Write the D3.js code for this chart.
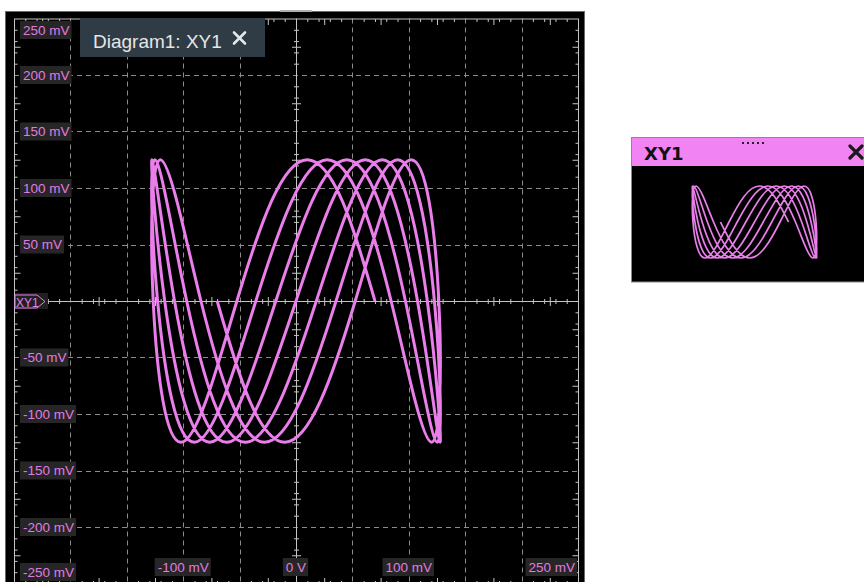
<!DOCTYPE html>
<html><head><meta charset="utf-8">
<script src="https://cdn.jsdelivr.net/npm/d3@7"></script>
<style>html,body{margin:0;padding:0;background:#fff;} svg{display:block;}</style>
</head><body>
<svg id="chart" width="864" height="582"></svg>
<script>
// ---- data (mV): one continuous record ----
const traceX = [-69.9,-41.2,-9.9,21.9,52.5,79.7,102.1,118.0,126.6,127.3,
  120.2,105.5,84.3,57.8,27.7,-4.0,-35.6,-64.9,-90.2,-109.9,
  -122.7,-127.9,-125.1,-114.6,-96.9,-73.3,-45.0,-13.9,18.0,48.8,
  76.5,99.5,116.4,125.9,127.7,121.5,107.7,87.2,61.4,31.7,
  0.0,-31.7,-61.4,-87.3,-107.7,-121.5,-127.7,-125.9,-116.4,-99.5,
  -76.5,-48.7,-17.9,14.0,45.0,73.3,97.0,114.7,125.2,127.9,
  122.7,109.8,90.1,64.9,35.5,4.0,-27.8,-57.8,-84.3,-105.5,
  -120.2,-127.3,-126.6,-118.0,-102.0,-79.7,-52.4,-21.9,10.0,41.3,70.0];
const traceY = [0,-88,-125,-88,0,88,125,88,0,-88,
  -125,-88,0,88,125,88,0,-88,-125,-88,
  0,88,125,88,0,-88,-125,-88,0,88,
  125,88,0,-88,-125,-88,0,88,125,88,
  0,-88,-125,-88,0,88,125,88,0,-88,
  -125,-88,0,88,125,88,0,-88,-125,-88,
  0,88,125,88,0,-88,-125,-88,0,88,
  125,88,0,-88,-125,-88,0,88,125,88,0];
const gridValues = [-200,-150,-100,-50,50,100,150,200];
const yTickValues = [250,200,150,100,50,-50,-100,-150,-200,-250];
const yTickLabels = ["250 mV","200 mV","150 mV","100 mV","50 mV","-50 mV","-100 mV","-150 mV","-200 mV","-250 mV"];
const xTickValues = [-100,0,100,250];
const xTickLabels = ["-100 mV","0 V","100 mV","250 mV"];
const legendText = "Diagram1: XY1";
const thumbTitle = "XY1";
const markerText = "XY1";

// ---- styles ----
const pink = "#ea7eea", labelPink = "#e27ae2", axisCol = "#c4c4c4", gridCol = "#8c8c8c";
const svg = d3.select("#chart");
const x = d3.scaleLinear().domain([-250,250]).range([14,578]);
const y = d3.scaleLinear().domain([-250,250]).range([583.5,18.5]);

// window frame
svg.append("rect").attr("x",5.5).attr("y",11.5).attr("width",579).attr("height",580)
  .attr("fill","#000").attr("stroke","#6a6a6a");
svg.append("rect").attr("x",280).attr("y",10).attr("width",32).attr("height",2).attr("fill","#b0b0b0");

// grid
const g = svg.append("g");
g.selectAll(".vg").data(gridValues).join("line")
  .attr("x1",d=>Math.round(x(d))+0.5).attr("x2",d=>Math.round(x(d))+0.5)
  .attr("y1",y(250)).attr("y2",y(-250))
  .attr("stroke",gridCol).attr("stroke-dasharray","5,4");
g.selectAll(".hg").data(gridValues).join("line")
  .attr("y1",d=>Math.round(y(d))+0.5).attr("y2",d=>Math.round(y(d))+0.5)
  .attr("x1",x(-250)).attr("x2",x(250))
  .attr("stroke",gridCol).attr("stroke-dasharray","5,4");

// border
svg.append("rect").attr("x",x(-250)+0.5).attr("y",y(250)+0.5)
  .attr("width",x(250)-x(-250)).attr("height",y(-250)-y(250))
  .attr("fill","none").attr("stroke",axisCol);

const minor = d3.range(-240,250,10).filter(v=>v%50!==0 && Math.abs(v%50)!==25);
const half = [-225,-175,-125,-75,-25,25,75,125,175,225];
function styleAxis(sel){ sel.select(".domain").remove(); sel.selectAll("line").attr("stroke",axisCol); }
function addAxis(gen, tx, ty, vals, size){
  svg.append("g").attr("transform",`translate(${tx},${ty})`)
    .call(gen.tickValues(vals).tickSize(size).tickFormat("")).call(styleAxis);
}
// border ticks
addAxis(d3.axisRight(y), x(-250)+0.5, 0, minor, 3);
addAxis(d3.axisRight(y), x(-250)+0.5, 0, half, 6);
addAxis(d3.axisLeft(y), x(250)+0.5, 0, minor, 3);
addAxis(d3.axisLeft(y), x(250)+0.5, 0, half, 6);
addAxis(d3.axisBottom(x), 0, y(250)+0.5, minor, 3);
addAxis(d3.axisBottom(x), 0, y(250)+0.5, half, 6);
addAxis(d3.axisTop(x), 0, y(-250)+0.5, minor, 3);
addAxis(d3.axisTop(x), 0, y(-250)+0.5, half, 6);

// center cross axes
const cx = Math.round(x(0))+0.5, cy = Math.round(y(0))+0.5;
svg.append("line").attr("x1",x(-250)).attr("x2",x(250)).attr("y1",cy).attr("y2",cy).attr("stroke",axisCol);
svg.append("line").attr("y1",y(250)).attr("y2",y(-250)).attr("x1",cx).attr("x2",cx).attr("stroke",axisCol);
addAxis(d3.axisBottom(x), 0, cy, minor, 2.5);
addAxis(d3.axisTop(x), 0, cy, minor, 2.5);
addAxis(d3.axisBottom(x), 0, cy, half, 4.5);
addAxis(d3.axisTop(x), 0, cy, half, 4.5);
addAxis(d3.axisRight(y), cx, 0, minor, 2.5);
addAxis(d3.axisLeft(y), cx, 0, minor, 2.5);
addAxis(d3.axisRight(y), cx, 0, half, 4.5);
addAxis(d3.axisLeft(y), cx, 0, half, 4.5);

// trace
const pts = traceX.map((v,i)=>[v,traceY[i]]);
const line = d3.line().x(d=>x(d[0])).y(d=>y(d[1])).curve(d3.curveNatural);
svg.append("path").attr("d",line(pts)).attr("fill","none")
  .attr("stroke",pink).attr("stroke-width",3).attr("stroke-linejoin","round");

// axis labels with dark boxes
const font = "'Liberation Sans', Arial, sans-serif";
function boxLabel(txt, xLeft, yc){
  const grp = svg.append("g");
  const t = grp.append("text").text(txt).attr("font-family",font).attr("font-size",13.5)
    .attr("fill",labelPink).attr("y",yc+4.8);
  const w = t.node().getComputedTextLength();
  const tx = xLeft + 3;
  t.attr("x",tx);
  grp.insert("rect","text").attr("x",tx-3).attr("y",yc-9).attr("width",w+5).attr("height",18).attr("fill","#262626");
}
yTickValues.forEach((v,i)=>{
  const yc = Math.max(30, Math.min(572, y(v)));
  boxLabel(yTickLabels[i], 20, yc);
});
xTickValues.forEach((v,i)=>{
  const grp = svg.append("g");
  const t = grp.append("text").text(xTickLabels[i]).attr("font-family",font).attr("font-size",13.5)
    .attr("fill",labelPink).attr("y",567+4.8);
  const w = t.node().getComputedTextLength();
  const tx = Math.min(x(v) - w/2, 575 - w);
  t.attr("x",tx);
  grp.insert("rect","text").attr("x",tx-3).attr("y",558).attr("width",w+5).attr("height",18).attr("fill","#262626");
});

// XY1 marker on the left of the zero line
svg.append("rect").attr("x",15).attr("y",293).attr("width",33).attr("height",16).attr("fill","#202020");
svg.append("path").attr("d",`M15,${cy-6.5}H37L45,${cy}L37,${cy+6.5}H15Z`).attr("fill","none").attr("stroke",pink).attr("stroke-width",1);
svg.append("text").text(markerText).attr("x",16).attr("y",cy+5).attr("font-family",font)
  .attr("font-size",12).attr("fill",pink);

// legend box
svg.append("rect").attr("x",80).attr("y",18).attr("width",185).attr("height",39).attr("fill","#2f3b45");
svg.append("text").text(legendText).attr("x",93).attr("y",48).attr("font-family",font)
  .attr("font-size",19).attr("fill","#e6e6e6");
svg.append("path").attr("d","M234,32.5L245,43.5M245,32.5L234,43.5").attr("stroke","#e6e6e6")
  .attr("stroke-width",2.6).attr("stroke-linecap","round");

// ---- thumbnail panel ----
svg.append("rect").attr("x",631.5).attr("y",137.5).attr("width",240).attr("height",144.5)
  .attr("fill","#000").attr("stroke","#8a8a8a");
svg.append("rect").attr("x",632).attr("y",138).attr("width",240).attr("height",28).attr("fill","#f283f2");
svg.append("text").text(thumbTitle).attr("x",644).attr("y",160).attr("font-family","'DejaVu Sans', sans-serif")
  .attr("font-weight","bold").attr("font-size",18).attr("fill","#111");
svg.selectAll(".dot").data(d3.range(5)).join("rect")
  .attr("x",d=>742+d*5).attr("y",142).attr("width",2).attr("height",2).attr("fill","#222");
svg.append("path").attr("d","M850,146L862,158M862,146L850,158").attr("stroke","#1a1a1a")
  .attr("stroke-width",3.2).attr("stroke-linecap","round");
const tx = d3.scaleLinear().domain([-250,250]).range([633,876]);
const ty = d3.scaleLinear().domain([-125,125]).range([258,186]);
const tline = d3.line().x(d=>tx(d[0])).y(d=>ty(d[1])).curve(d3.curveNatural);
svg.append("path").attr("d",tline(pts)).attr("fill","none").attr("stroke",pink).attr("stroke-width",1.7);
</script>
</body></html>
